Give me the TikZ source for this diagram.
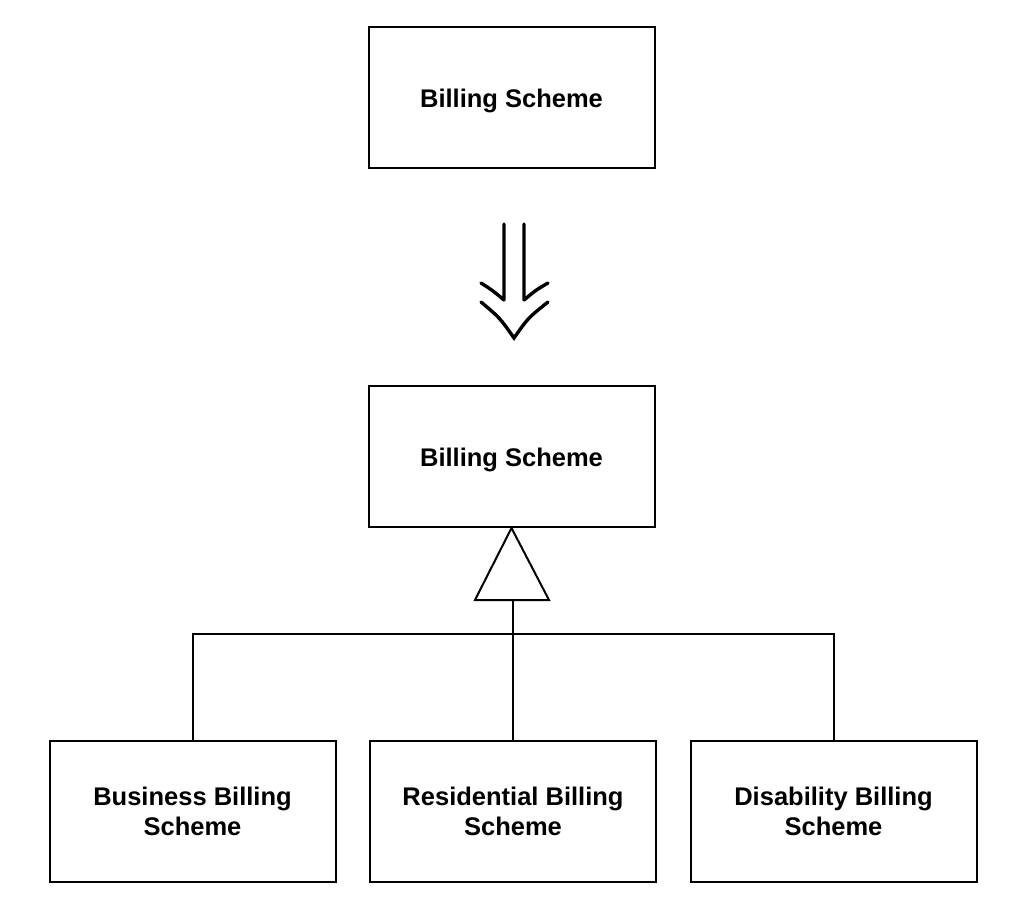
\documentclass[tikz,border=0pt]{standalone}
\usepackage{fontspec}
\setmainfont{Liberation Sans}
\begin{document}
\begin{tikzpicture}[x=1pt,y=-1pt,
  box/.style={draw,line width=2pt,minimum width=286pt,minimum height=141pt,inner sep=0pt,
    font=\fontsize{25.5}{30}\selectfont\bfseries,align=center},
  single/.style={text height=22pt,text depth=1.5pt},
  ln/.style={line width=2pt},
  dbl/.style={line width=3.4pt,line cap=round,line join=miter}]
\useasboundingbox (0,0) rectangle (1036,905);
\node[box,single] (top) at (511.5,97) {Billing Scheme};
\node[box,single] (mid) at (511.5,456.5) {Billing Scheme};
\node[box] (b1) at (192.5,811) {Business Billing\\Scheme};
\node[box] (b2) at (513,811) {Residential Billing\\Scheme};
\node[box] (b3) at (833.5,811) {Disability Billing\\Scheme};
% refinement arrow
\coordinate (la) at (504,224);
\coordinate (lb) at (504,300);
\coordinate (ra) at (524,224);
\coordinate (rb) at (524,300);
\draw[dbl] (la) -- (lb) (481,283) .. controls (492,290) .. (lb);
\draw[dbl] (ra) -- (rb) (548,283) .. controls (536,290) .. (rb);
\draw[dbl] (481,302) .. controls (500,318) .. (514,338) .. controls (528,318) .. (548,302);
% generalization
\coordinate (apex) at (mid.south);
\coordinate (tb) at (513,600);
\draw[ln,line join=miter] (apex) -- (475,600) -- (549,600) -- cycle;
\coordinate (j1) at (b1.north |- 0,634);
\coordinate (j3) at (b3.north |- 0,634);
\draw[ln] (tb) -- (b2.north);
\draw[ln] (b1.north) -- (j1) -- (j3) -- (b3.north);
\end{tikzpicture}
\end{document}
